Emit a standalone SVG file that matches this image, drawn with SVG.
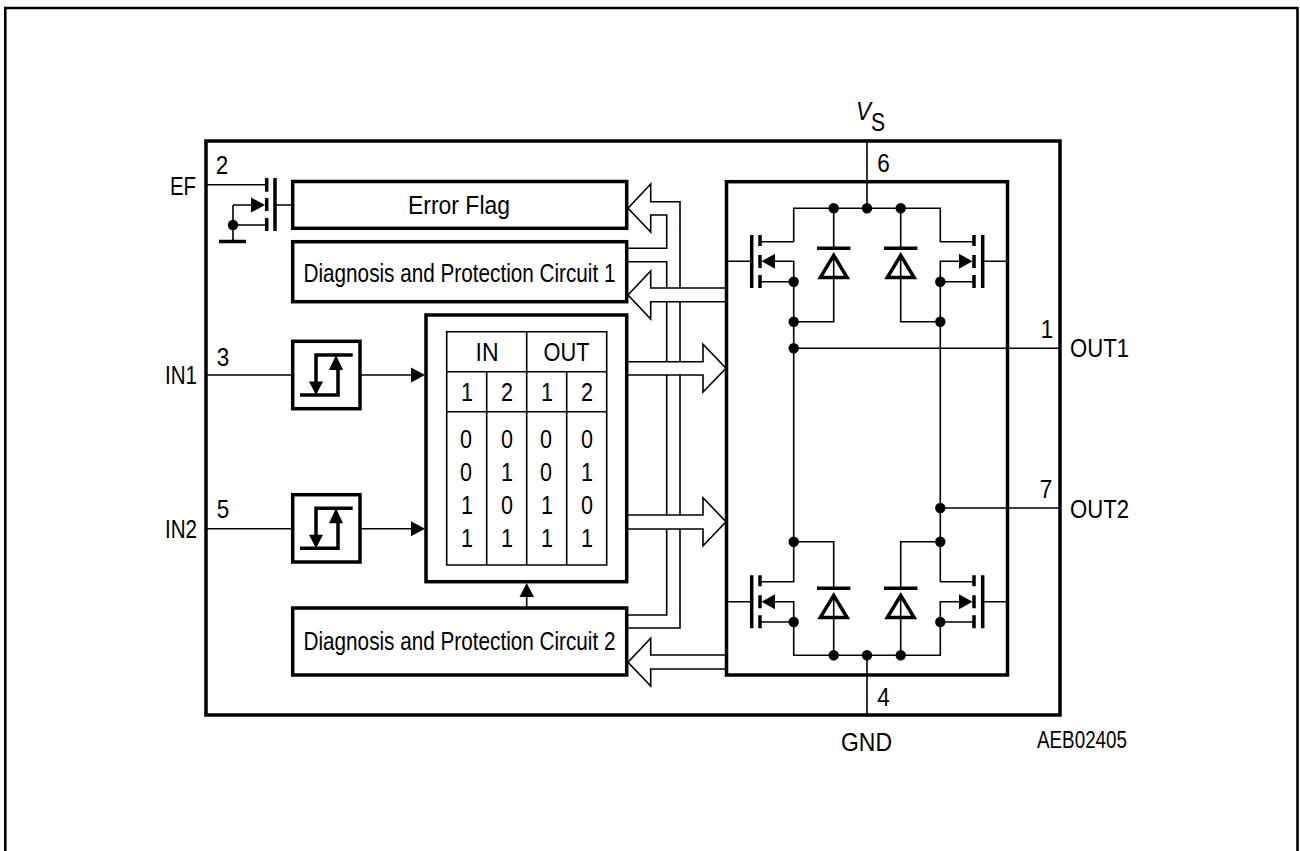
<svg xmlns="http://www.w3.org/2000/svg" width="1300" height="851" viewBox="0 0 1300 851">
<style>
text{font-family:"Liberation Sans",Arial,sans-serif;font-size:25.5px;fill:#000}
.d{text-anchor:middle}
.w{fill:none;stroke:#000;stroke-width:1.6}
.b{fill:none;stroke:#000;stroke-width:3.5}
.f{fill:#000;stroke:none}
</style>
<defs>
<circle id="dot" r="5.2" class="f"/>
<g id="diode">
<path class="b" d="M-16.7 0H16.7"/>
<path class="b" d="M0 7L-13.4 29.3H13.4Z"/>
<path class="w" d="M0 8V29"/>
</g>
<g id="schmitt">
<path class="b" d="M352.7 0H316V30"/>
<path class="b" d="M300 40H338V10"/>
<path class="f" d="M309 26.5H323L316 40Z"/>
<path class="f" d="M329 15H343L336 0Z"/>
</g>
</defs>
<rect width="1300" height="851" fill="#fff"/>
<path id="page-frame" d="M5.3 851V8H1297.5V851" fill="none" stroke="#000" stroke-width="2.6"/>
<g id="connectors">
<path class="w" d="M206 184.7H266M275 205H292.7"/>
<path class="w" d="M206 375H292.7M360 375H411M206 528.7H292.7M360 528.7H411"/>
<path class="f" d="M411 367.5L425 375L411 382.5Z"/>
<path class="f" d="M411 521.2L425 528.7L411 536.2Z"/>
<path class="w" d="M526.7 597V608"/>
<path class="f" d="M519.5 597H534L526.7 583Z"/>
<path class="w" d="M680 287.7V201.7H650.7V184L628 208.3L650.7 232V215H666.7V248.3H628"/>
<path class="w" d="M628 261.7H666.7V287.7M666.7 301.7V361.7M680 301.7V361.7M666.7 375V515M680 375V515M666.7 529.3V615H628M680 529.3V628H628"/>
<path class="w" d="M726 288H650.7V271L628 295L650.7 319V301.7H726"/>
<path class="w" d="M628 361.7H703V344.3L726 368.3L703 392V375H628"/>
<path class="w" d="M628 515H703V497.7L726 521.7L703 545.7V529H628"/>
<path class="w" d="M726 655H650.7V638.3L628 662.3L650.7 686V669H726"/>
<path class="w" d="M867 141V208.3M867 655.3V715"/>
<path class="w" d="M793.7 348.3H1060M940.3 508H1060"/>
</g>
<g id="chip-outline"><rect x="206" y="141" width="854" height="574" class="b"/></g>
<g id="ef-transistor">
<path class="w" d="M233 205H252M233 205V241M233 225H266"/>
<path class="b" d="M219 241.5H246M275 178V231"/>
<path class="b" d="M266.7 178V191.7M266.7 198V211M266.7 218V231"/>
<path class="f" d="M251 197.5L265 205L251 212.5Z"/>
<circle cx="233" cy="225" r="5.2" class="f"/>
</g>
<g id="error-flag"><rect x="292.7" y="181.5" width="334" height="46.8" class="b"/><text x="408" y="213.5" textLength="102" lengthAdjust="spacingAndGlyphs">Error Flag</text></g>
<g id="diag1"><rect x="292.7" y="241.7" width="334" height="60" class="b"/><text x="303.5" y="281.7" textLength="312" lengthAdjust="spacingAndGlyphs">Diagnosis and Protection Circuit 1</text></g>
<g id="diag2"><rect x="292.7" y="608" width="334" height="67" class="b"/><text x="303.5" y="650" textLength="312" lengthAdjust="spacingAndGlyphs">Diagnosis and Protection Circuit 2</text></g>
<g id="schmitt1"><rect x="292.7" y="341.3" width="67.3" height="67.4" class="b"/><use href="#schmitt" y="355"/></g>
<g id="schmitt2"><rect x="292.7" y="494.7" width="67.3" height="67.3" class="b"/><use href="#schmitt" y="508.3"/></g>
<g id="logic-table">
<rect x="426" y="315" width="200.7" height="266.7" class="b"/>
<path class="w" d="M446.7 331.7H606.7V565H446.7ZM446.7 371.7H606.7M446.7 411.7H606.7M526.7 331.7V565M486.7 371.7V565M566.7 371.7V565"/>
<text x="475.5" y="360.7" textLength="23" lengthAdjust="spacingAndGlyphs">IN</text>
<text x="543.5" y="360.7" textLength="46" lengthAdjust="spacingAndGlyphs">OUT</text>
<text x="467" y="400.7" class="d" textLength="12" lengthAdjust="spacingAndGlyphs">1</text><text x="507" y="400.7" class="d" textLength="12" lengthAdjust="spacingAndGlyphs">2</text><text x="547" y="400.7" class="d" textLength="12" lengthAdjust="spacingAndGlyphs">1</text><text x="587" y="400.7" class="d" textLength="12" lengthAdjust="spacingAndGlyphs">2</text>
<text x="466" y="447.7" class="d" textLength="12" lengthAdjust="spacingAndGlyphs">0</text><text x="507" y="447.7" class="d" textLength="12" lengthAdjust="spacingAndGlyphs">0</text><text x="546" y="447.7" class="d" textLength="12" lengthAdjust="spacingAndGlyphs">0</text><text x="587" y="447.7" class="d" textLength="12" lengthAdjust="spacingAndGlyphs">0</text>
<text x="466" y="481" class="d" textLength="12" lengthAdjust="spacingAndGlyphs">0</text><text x="507" y="481" class="d" textLength="12" lengthAdjust="spacingAndGlyphs">1</text><text x="546" y="481" class="d" textLength="12" lengthAdjust="spacingAndGlyphs">0</text><text x="587" y="481" class="d" textLength="12" lengthAdjust="spacingAndGlyphs">1</text>
<text x="467" y="514.3" class="d" textLength="12" lengthAdjust="spacingAndGlyphs">1</text><text x="507" y="514.3" class="d" textLength="12" lengthAdjust="spacingAndGlyphs">0</text><text x="547" y="514.3" class="d" textLength="12" lengthAdjust="spacingAndGlyphs">1</text><text x="587" y="514.3" class="d" textLength="12" lengthAdjust="spacingAndGlyphs">0</text>
<text x="467" y="547.3" class="d" textLength="12" lengthAdjust="spacingAndGlyphs">1</text><text x="507" y="547.3" class="d" textLength="12" lengthAdjust="spacingAndGlyphs">1</text><text x="547" y="547.3" class="d" textLength="12" lengthAdjust="spacingAndGlyphs">1</text><text x="587" y="547.3" class="d" textLength="12" lengthAdjust="spacingAndGlyphs">1</text>
</g>
<g id="h-bridge">
<rect x="726.5" y="181.7" width="281" height="493.3" class="b"/>
<path class="w" d="M793.7 241.7V208.3H940.3V241.7H974M793.7 241.7H760M751.7 261.3H726.5M775 261.3H793.7V541.7M760 281.7H793.7M982.7 261.3H1007.5M959 261.3H940.3V581.7M974 281.7H940.3"/>
<path class="w" d="M833.7 208.3V248M900.7 208.3V248M833.7 276V321.7H793.7M900.7 276V321.7H940.3"/>
<path class="w" d="M793.7 541.7H833.7V588M940.3 541.7H900.7V588M793.7 541.7V581.7H760M940.3 581.7H974M751.7 601.7H726.5M775 601.7H793.7V655.3H940.3V601.7H959M982.7 601.7H1007.5M760 622H793.7M974 622H940.3M833.7 616V655.3M900.7 616V655.3"/>
<g id="q1"><path class="b" d="M751.7 235V288M760 235V246M760 255V268M760 275V288"/><path class="f" d="M775 253.8L761.5 261.3L775 268.8Z"/></g>
<g id="q2"><path class="b" d="M982.7 235V288M974 235V246M974 255V268M974 275V288"/><path class="f" d="M959 253.8L972.5 261.3L959 268.8Z"/></g>
<g id="q3"><path class="b" d="M751.7 575.3V628.3M760 575.3V586.3M760 595.3V608.3M760 615.3V628.3"/><path class="f" d="M775 594.2L761.5 601.7L775 609.2Z"/></g>
<g id="q4"><path class="b" d="M982.7 575.3V628.3M974 575.3V586.3M974 595.3V608.3M974 615.3V628.3"/><path class="f" d="M959 594.2L972.5 601.7L959 609.2Z"/></g>
<use href="#diode" x="833.7" y="248.3"/><use href="#diode" x="900.7" y="248.3"/>
<use href="#diode" x="833.7" y="588.3"/><use href="#diode" x="900.7" y="588.3"/>
<use href="#dot" x="833.7" y="208.3"/><use href="#dot" x="867" y="208.3"/><use href="#dot" x="900.7" y="208.3"/>
<use href="#dot" x="793.7" y="281.7"/><use href="#dot" x="793.7" y="321.7"/><use href="#dot" x="793.7" y="348.3"/>
<use href="#dot" x="940.3" y="281.7"/><use href="#dot" x="940.3" y="321.7"/><use href="#dot" x="940.3" y="508"/>
<use href="#dot" x="793.7" y="541.7"/><use href="#dot" x="940.3" y="541.7"/>
<use href="#dot" x="793.7" y="622"/><use href="#dot" x="940.3" y="622"/>
<use href="#dot" x="833.7" y="655.3"/><use href="#dot" x="867" y="655.3"/><use href="#dot" x="900.7" y="655.3"/>
</g>
<g id="labels">
<text x="170" y="195" textLength="26" lengthAdjust="spacingAndGlyphs">EF</text>
<text x="165" y="384" textLength="32" lengthAdjust="spacingAndGlyphs">IN1</text>
<text x="165" y="538" textLength="32" lengthAdjust="spacingAndGlyphs">IN2</text>
<text x="222" y="174" class="d" textLength="12.5" lengthAdjust="spacingAndGlyphs">2</text>
<text x="223" y="366" class="d" textLength="12.5" lengthAdjust="spacingAndGlyphs">3</text>
<text x="223" y="518" class="d" textLength="12.5" lengthAdjust="spacingAndGlyphs">5</text>
<text x="883.5" y="171.7" class="d" textLength="12.5" lengthAdjust="spacingAndGlyphs">6</text>
<text x="883.5" y="706" class="d" textLength="12.5" lengthAdjust="spacingAndGlyphs">4</text>
<text x="1047" y="337.7" class="d" textLength="12.5" lengthAdjust="spacingAndGlyphs">1</text>
<text x="1046" y="498" class="d" textLength="12.5" lengthAdjust="spacingAndGlyphs">7</text>
<text x="1070" y="356.7" textLength="59" lengthAdjust="spacingAndGlyphs">OUT1</text>
<text x="1070" y="517.7" textLength="59" lengthAdjust="spacingAndGlyphs">OUT2</text>
<text x="856" y="120" font-style="italic" textLength="15" lengthAdjust="spacingAndGlyphs">V</text>
<text x="871" y="131" textLength="14" lengthAdjust="spacingAndGlyphs">S</text>
<text x="841" y="751" textLength="51" lengthAdjust="spacingAndGlyphs">GND</text>
<text x="1037" y="748" textLength="90" lengthAdjust="spacingAndGlyphs" style="font-size:23px">AEB02405</text>
</g>
</svg>
